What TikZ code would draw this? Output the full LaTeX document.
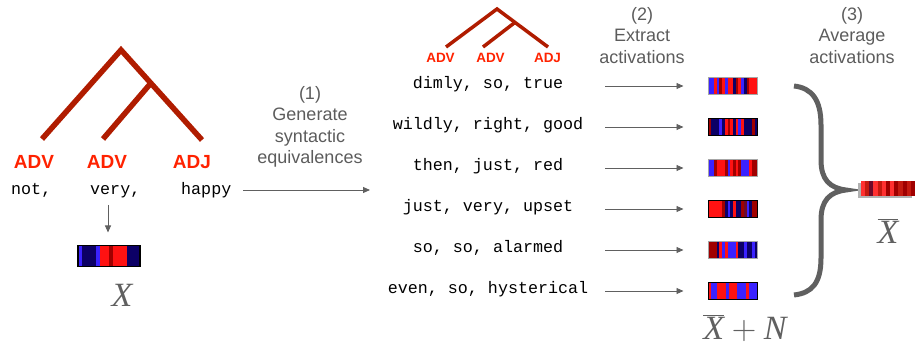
\RequirePackage{fix-cm}
\documentclass[tikz,border=0pt]{standalone}
\usepackage{fontspec}
\setmainfont{Liberation Sans}
\newfontfamily\monof{Liberation Mono}
\newfontfamily\seriff{Liberation Serif}
\usetikzlibrary{calc,arrows.meta}
\definecolor{treered}{HTML}{B01C00}
\definecolor{lblred}{HTML}{FF2200}
\definecolor{txtgray}{HTML}{5C5C5C}
\definecolor{symgray}{HTML}{606060}
\definecolor{cB}{HTML}{3A22FF}
\definecolor{cN}{HTML}{0C0066}
\definecolor{cR}{HTML}{FF1212}
\definecolor{cD}{HTML}{A00000}
\definecolor{cM}{HTML}{6E0A2A}
\definecolor{cL}{HTML}{FF3030}
\definecolor{cO}{HTML}{C41A10}
\newcommand\actsegs[3]{\foreach \c [count=\i] in {#3}{\fill[\c] ($(#1.south west)!{(\i-1)/#2}!(#1.south east)$) rectangle ($(#1.north west)!{\i/#2}!(#1.north east)$);}}
\tikzset{
  tree/.style={treered, line width=5.5pt, line join=miter},
  smalltree/.style={treered, line width=3.5pt, line join=miter},
  biglbl/.style={text=lblred, font=\fontsize{19}{19}\selectfont\bfseries, anchor=base, inner sep=0pt},
  smalllbl/.style={text=lblred, font=\fontsize{13.5}{13.5}\selectfont\bfseries, anchor=base, inner sep=0pt},
  word/.style={font=\fontsize{16.7}{16.7}\selectfont\monof, anchor=mid west, inner sep=0pt},
  phrase/.style={font=\fontsize{16.7}{16.7}\selectfont\monof, anchor=mid, inner sep=0pt},
  heading/.style={text=txtgray, font=\fontsize{18}{21.5}\selectfont, align=center, anchor=north, inner sep=0pt},
  arr/.style={draw=symgray, line width=0.9pt, -{Triangle[length=7pt,width=6pt]}},
  actbar/.style={minimum width=49pt, minimum height=17pt, inner sep=0pt, outer sep=0pt},
  frameblack/.style={draw=black, line width=1.8pt},
  framegray/.style={draw=black!35, line width=0.8pt},
  symlbl/.style={text=symgray, font=\fontsize{34}{34}\selectfont, inner sep=0pt},
}
\begin{document}
\begin{tikzpicture}[x=1pt,y=-1pt]
\useasboundingbox (0,0) rectangle (915,347);
% left tree
\coordinate (t0) at (121,50);
\coordinate (tl) at (42,139);
\coordinate (tm) at (151,83);
\coordinate (tmi) at (103,139);
\coordinate (tr) at (202,140);
\draw[tree] (tl) -- (t0) -- (tr);
\draw[tree] (tm) -- (tmi);
\node[biglbl] (l1) at (34,169) {ADV};
\node[biglbl] (l2) at (107,169) {ADV};
\node[biglbl] (l3) at (192,169) {ADJ};
\node[word] (w1) at (11,192) {not,};
\node[word] (w2) at (90,192) {very,};
\node[word] (w3) at (181,192) {happy};
\coordinate (va) at (108,205);
\node[actbar, minimum width=62pt, minimum height=21pt] (xb) at (109,256) {};
\actsegs{xb}{14}{cB,cN,cN,cN,cB,cR,cR,cD,cR,cR,cR,cN,cN,cN}
\draw[frameblack] (xb.south west) rectangle (xb.north east);
\draw[arr] (va) -- ([yshift=13pt]xb.north -| va);
\node[symlbl] (xl) at (122,295) {\seriff\itshape X};
% heading 1 and main arrow
\node[heading] (h1) at (310,86) {(1)\\Generate\\syntactic\\equivalences};
\coordinate (ma) at (243,190);
\coordinate (mb) at (370,190);
\draw[arr] (ma) -- (mb);
% small tree
\coordinate (s0) at (497,9);
\coordinate (sl) at (446,47);
\coordinate (sm) at (515,22.4);
\coordinate (smi) at (483,47);
\coordinate (sr) at (548,47);
\draw[smalltree] (sl) -- (s0) -- (sr);
\draw[smalltree] (sm) -- (smi);
\node[smalllbl] (k1) at (440.5,63) {ADV};
\node[smalllbl] (k2) at (490.5,63) {ADV};
\node[smalllbl] (k3) at (547.5,63) {ADJ};
% headings 2 and 3
\node[heading] (h2) at (642,7) {(2)\\Extract\\activations};
\node[heading] (h3) at (852,7) {(3)\\Average\\activations};
% phrases, arrows, bars
\foreach \n/\y/\t in {1/86/{dimly, so, true},2/127/{wildly, right, good},3/168/{then, just, red},4/209/{just, very, upset},5/250/{so, so, alarmed},6/291/{even, so, hysterical}}{
  \node[phrase] (p\n) at (488,\y) {\t};
  \node[actbar] (b\n) at (733,\y) {};
  \coordinate (a\n) at (605,\y);
}
\actsegs{b1}{18}{cB,cB,cR,cB,cD,cR,cB,cR,cR,cN,cD,cR,cB,cN,cD,cR,cR,cR}
\actsegs{b2}{18}{cD,cN,cN,cN,cB,cN,cR,cD,cR,cN,cR,cB,cR,cN,cN,cN,cD,cN}
\actsegs{b3}{18}{cB,cB,cD,cR,cR,cR,cD,cB,cR,cD,cR,cD,cB,cB,cB,cR,cD,cD}
\actsegs{b4}{18}{cR,cR,cR,cR,cR,cD,cN,cB,cN,cR,cN,cN,cD,cM,cB,cN,cD,cD}
\actsegs{b5}{18}{cD,cD,cD,cN,cR,cB,cR,cB,cB,cB,cR,cN,cN,cB,cN,cN,cB,cN}
\actsegs{b6}{17}{cR,cB,cB,cR,cR,cR,cB,cR,cR,cR,cB,cB,cB,cR,cB,cB,cB}
\draw[framegray] (b1.south west) rectangle (b1.north east);
\draw[frameblack] (b2.south west) rectangle (b2.north east);
\draw[framegray] (b3.south west) rectangle (b3.north east);
\draw[frameblack] (b4.south west) rectangle (b4.north east);
\draw[framegray] (b5.south west) rectangle (b5.north east);
\draw[frameblack] (b6.south west) rectangle (b6.north east);
\foreach \n in {1,...,6}{\draw[arr] (a\n) -- ([xshift=-25pt]b\n.west);}
\node[symlbl] (xn) at (745,328) {$\overline{\mbox{\seriff\itshape X}}+\mbox{\seriff\itshape N}$};
% brace
\coordinate (bt) at (794,86);
\coordinate (bb) at (794,295);
\coordinate (btip) at (846,190);
\draw[symgray, line width=5pt] (bt) .. controls (812,88) and (821,100) .. (821,125) -- (821,160) .. controls (821,180) and (830,188) .. (btip) .. controls (830,192) and (821,200) .. (821,220) -- (821,258) .. controls (821,283) and (812,293) .. (bb);
% average bar
\node[actbar, minimum width=54pt, minimum height=15pt] (ab) at (888,188.5) {};
\fill[black!30] ([shift={(-3,2)}]ab.south west) rectangle ([shift={(-3,2)}]ab.north east);
\actsegs{ab}{13}{cL,cO,cM,cL,cO,cL,cD,cL,cD,cO,cD,cO,cD}
\node[symlbl] (xa) at (888,231) {$\overline{\mbox{\seriff\itshape X}}$};
\end{tikzpicture}
\end{document}
